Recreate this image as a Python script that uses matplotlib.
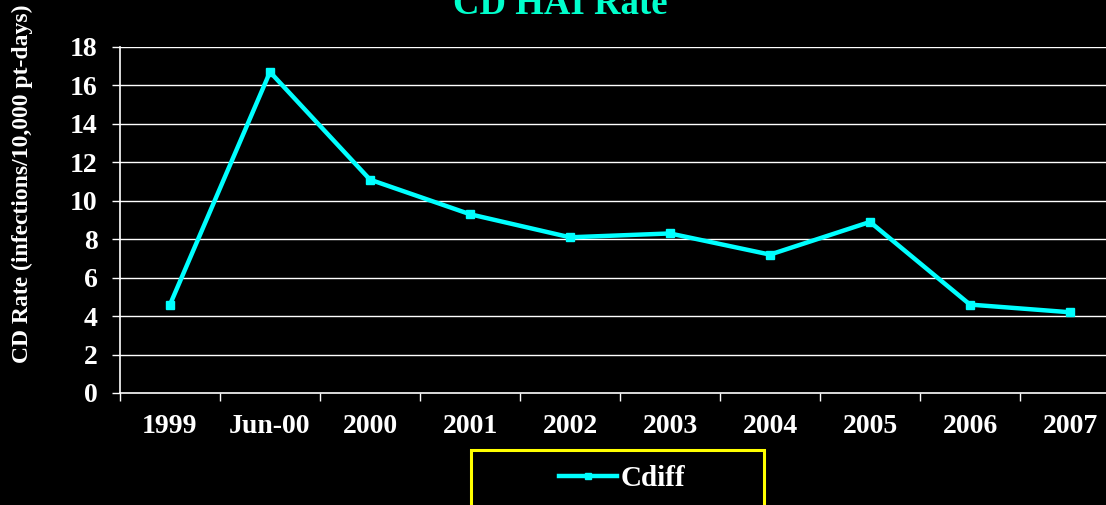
import matplotlib
matplotlib.use("Agg")
import matplotlib.pyplot as plt
from matplotlib.patches import Rectangle

# Clostridium difficile hospital-acquired infection rate by period
periods = ["1999", "Jun-00", "2000", "2001", "2002", "2003", "2004", "2005", "2006", "2007"]
cdiff_rate = [4.6, 16.7, 11.1, 9.3, 8.1, 8.3, 7.2, 8.9, 4.6, 4.2]
y_ticks = [0, 2, 4, 6, 8, 10, 12, 14, 16, 18]

plt.rcParams["font.family"] = ["Liberation Serif", "DejaVu Serif"]
plt.rcParams["font.weight"] = "bold"

W, H = 1106, 505
fig = plt.figure(figsize=(W / 100, H / 100), dpi=100, facecolor="black")
ax = fig.add_axes([120 / W, 112 / H, 1000 / W, 346 / H], facecolor="black")

x = list(range(len(periods)))
line, = ax.plot(x, cdiff_rate, color="#00FFFF", lw=3.2, marker="s", ms=6,
                markeredgecolor="#00FFFF", solid_joinstyle="miter", clip_on=False,
                label="Cdiff", zorder=3)

ax.set_xlim(-0.5, len(periods) - 0.5)
ax.set_ylim(0, 18)
ax.set_yticks(y_ticks)
ax.set_yticklabels([str(v) for v in y_ticks])
for v in y_ticks[1:]:
    ax.axhline(v, color="white", lw=1.0, zorder=1)

# category boundaries carry the tick marks, centers carry the labels
ax.set_xticks([i - 0.5 for i in range(len(periods) + 1)])
ax.set_xticklabels([])
ax.set_xticks(x, minor=True)
ax.set_xticklabels(periods, minor=True)
ax.tick_params(axis="x", which="major", direction="out", length=6, width=1, colors="white")
ax.tick_params(axis="x", which="minor", length=0, pad=15, labelsize=20, labelcolor="white")
ax.tick_params(axis="y", direction="out", length=6, width=1, colors="white",
               pad=10, labelsize=20)
for lbl in ax.get_xticklabels(minor=True) + ax.get_yticklabels():
    lbl.set_fontweight("bold")

for side in ["top", "right"]:
    ax.spines[side].set_visible(False)
for side in ["left", "bottom"]:
    ax.spines[side].set_color("white")
    ax.spines[side].set_linewidth(1.2)

fig.text(22 / W, 1 - 363 / H, "CD Rate (infections/10,000 pt-days)", color="white",
         fontsize=17, fontweight="bold", rotation=90, ha="center", va="bottom")

fig.text(560 / W, 1 - 14 / H, "CD HAI Rate", color="#00FFCC", fontsize=26.5,
         fontweight="bold", ha="center", va="baseline")

# legend box with yellow border
fig.patches.append(Rectangle((471 / W, -0.05), 293 / W, (505 - 450) / H + 0.05,
                             transform=fig.transFigure, facecolor="none",
                             edgecolor="yellow", lw=2.2, zorder=5))
leg = fig.legend(handles=[line], loc="center", bbox_to_anchor=(622 / W, 1 - 479 / H),
                 frameon=False, fontsize=21, handlelength=2.0, handletextpad=0.1,
                 markerscale=0.8, labelcolor="white")
for t in leg.get_texts():
    t.set_fontweight("bold")

fig.savefig("out.png", dpi=100, facecolor="black")
